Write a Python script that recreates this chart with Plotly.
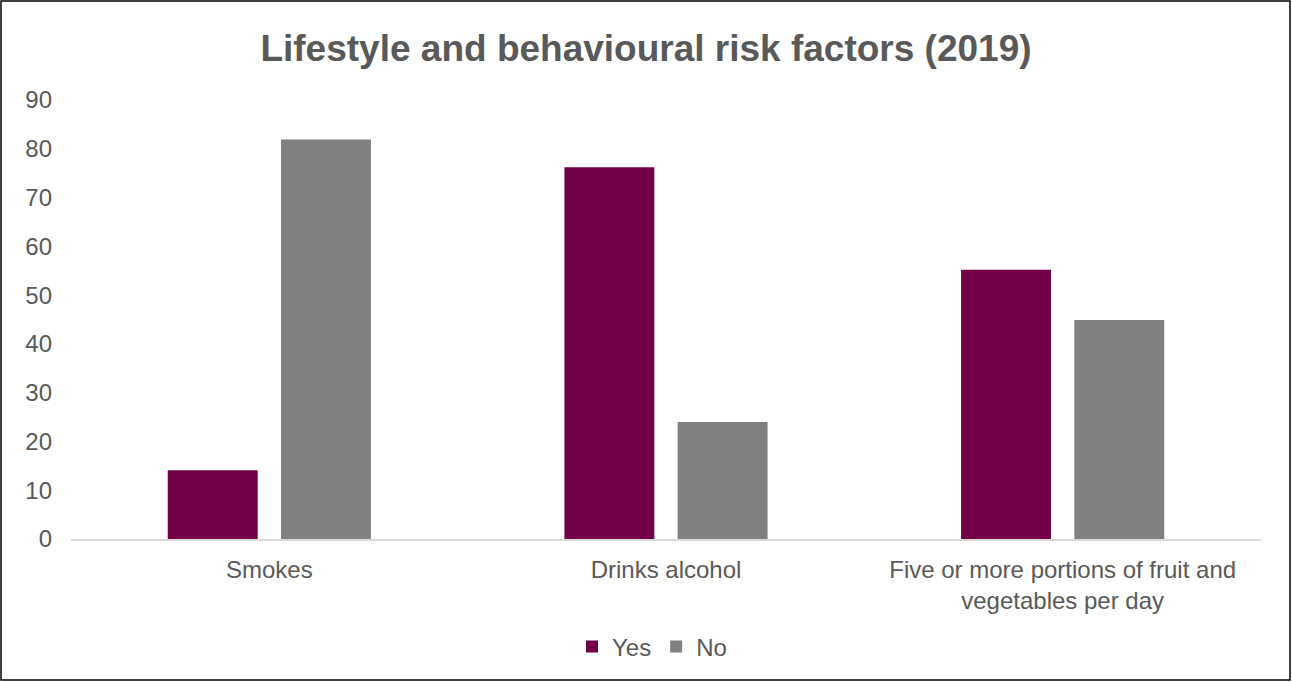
import plotly.graph_objects as go

categories = ["Smokes", "Drinks alcohol", "Five or more portions of fruit and<br>vegetables per day"]
yes_values = [14.1, 76.2, 55.2]
no_values = [81.9, 24.0, 44.9]
y_ticks = [0, 10, 20, 30, 40, 50, 60, 70, 80, 90]

W, H = 1292, 682
ml, mr, mt, mb = 71, 31, 100, 143
pw, ph = W - ml - mr, H - mt - mb

def px_x(x):
    return (x - ml) / pw

def px_y(y):
    return (H - mb - y) / ph

FONT = "Liberation Sans, Arial, sans-serif"
GREY_TXT = "#595959"

fig = go.Figure()
fig.add_trace(go.Bar(name="Yes", x=categories, y=yes_values,
                     marker=dict(color="#720047", line=dict(width=0))))
fig.add_trace(go.Bar(name="No", x=categories, y=no_values,
                     marker=dict(color="#808080", line=dict(width=0))))

fig.update_layout(
    width=W, height=H,
    margin=dict(l=ml, r=mr, t=mt, b=mb),
    paper_bgcolor="white", plot_bgcolor="white",
    barmode="group", bargap=0.429, bargroupgap=0.206,
    font=dict(family=FONT, size=24, color=GREY_TXT),
    title=dict(text="<b>Lifestyle and behavioural risk factors (2019)</b>",
               x=0.5, xanchor="center", y=1 - 48 / H, yanchor="middle",
               font=dict(family=FONT, size=37, color=GREY_TXT)),
    showlegend=True,
    legend=dict(orientation="h", x=px_x(652), xanchor="center",
                y=px_y(647), yanchor="middle",
                font=dict(family=FONT, size=24, color=GREY_TXT),
                itemwidth=30, traceorder="normal"),
    xaxis=dict(showgrid=False, showline=True, linecolor="#d9d9d9", linewidth=1.5,
               ticks="", tickfont=dict(family=FONT, size=24, color=GREY_TXT),
               ticklabelstandoff=8, zeroline=False),
    yaxis=dict(range=[0, 90], tickvals=y_ticks, showgrid=False, zeroline=False,
               showline=False, ticks="", ticklabelstandoff=18,
               tickfont=dict(family=FONT, size=24, color=GREY_TXT)),
    shapes=[dict(type="rect", xref="paper", yref="paper",
                 x0=px_x(1), x1=px_x(W - 2), y0=px_y(H - 2), y1=px_y(1),
                 line=dict(color="black", width=1.5), fillcolor="rgba(0,0,0,0)",
                 layer="above")],
)

fig.write_html("out.html",
               config={"displayModeBar": False},
               post_script="document.body.style.margin='0';document.body.style.overflow='hidden';")
